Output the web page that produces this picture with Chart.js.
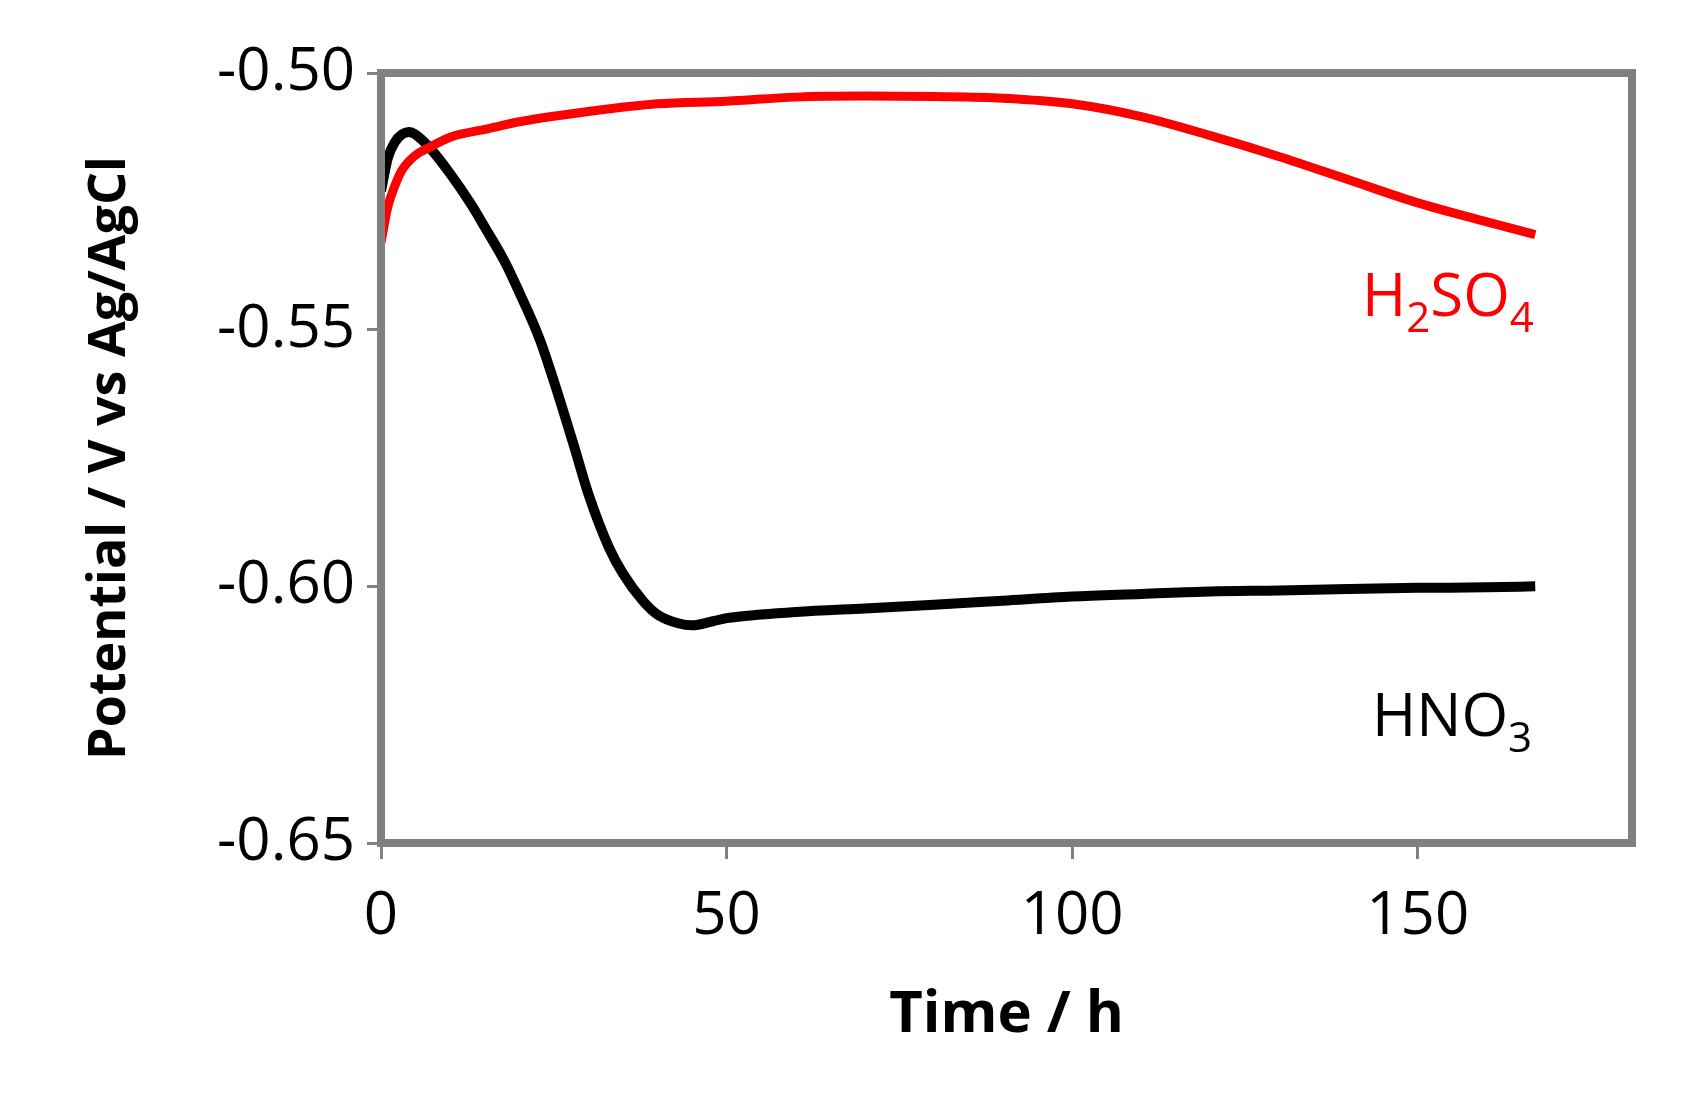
<!DOCTYPE html>
<html>
<head>
<meta charset="utf-8">
<script src="https://cdn.jsdelivr.net/npm/chart.js@4"></script>
<style>
  html, body { margin: 0; padding: 0; background: #fff; }
  #wrap { width: 1694px; height: 1104px; }
</style>
</head>
<body>
<div id="wrap"><canvas id="chart"></canvas></div>
<script>
const hno3Time = [0, 1, 2, 3, 4, 5, 7, 10, 13, 15, 18, 20, 23, 25, 28, 30, 33, 35, 38, 40, 43, 45, 48, 50, 55, 60, 70, 80, 90, 100, 110, 120, 130, 140, 150, 160, 167];
const hno3Potential = [-0.523, -0.5165, -0.5135, -0.512, -0.5115, -0.512, -0.5145, -0.5196, -0.5255, -0.530, -0.537, -0.5427, -0.552, -0.560, -0.573, -0.582, -0.5925, -0.5975, -0.603, -0.6055, -0.6072, -0.6076, -0.6068, -0.6062, -0.6055, -0.605, -0.6043, -0.6036, -0.6028, -0.602, -0.6015, -0.601, -0.6008, -0.6005, -0.6003, -0.6002, -0.6];

const h2so4Time = [0, 1, 2, 3, 5, 7, 10, 15, 20, 30, 40, 50, 60, 70, 80, 90, 100, 110, 120, 130, 140, 150, 160, 167];
const h2so4Potential = [-0.533, -0.526, -0.522, -0.519, -0.516, -0.5145, -0.5125, -0.511, -0.5095, -0.5075, -0.506, -0.5055, -0.5047, -0.5045, -0.5046, -0.5049, -0.506, -0.5085, -0.5122, -0.5163, -0.5208, -0.5253, -0.529, -0.5315];

const xTicks = [0, 50, 100, 150];
const yTicks = [-0.65, -0.60, -0.55, -0.50];

const toPoints = (xs, ys) => xs.map((x, i) => ({ x: x, y: ys[i] }));

const gray = "#808080";
const font = "'Open Sans', 'Liberation Sans', sans-serif";

// Frame around the plot area and the two series labels
const framePlugin = {
  id: "frame",
  afterDraw: (chart) => {
    const { ctx, chartArea: a } = chart;
    ctx.save();
    ctx.strokeStyle = gray;
    ctx.lineWidth = 8;
    ctx.strokeRect(a.left, a.top, a.right - a.left, a.bottom - a.top);

    const label = (main, sub, tail, x, y, color) => {
      ctx.fillStyle = color;
      ctx.textBaseline = "alphabetic";
      ctx.font = "60px " + font;
      ctx.fillText(main, x, y);
      let w = ctx.measureText(main).width;
      ctx.font = "42px " + font;
      ctx.fillText(sub, x + w, y + 16);
      w += ctx.measureText(sub).width;
      if (tail) {
        ctx.font = "60px " + font;
        ctx.fillText(tail, x + w, y);
        w += ctx.measureText(tail).width;
        ctx.font = "42px " + font;
        ctx.fillText("4", x + w, y + 16);
      }
    };
    label("H", "2", "SO", 1362, 316, "#ff0000");
    label("HNO", "3", null, 1372, 736, "#000000");
    ctx.restore();
  },
};

new Chart(document.getElementById("chart"), {
  type: "line",
  data: {
    datasets: [
      {
        label: "H2SO4",
        data: toPoints(h2so4Time, h2so4Potential),
        borderColor: "#ff0000",
        borderWidth: 9,
        pointRadius: 0,
        cubicInterpolationMode: "monotone",
      },
      {
        label: "HNO3",
        data: toPoints(hno3Time, hno3Potential),
        borderColor: "#000000",
        borderWidth: 10,
        pointRadius: 0,
        cubicInterpolationMode: "monotone",
      },
    ],
  },
  options: {
    responsive: true,
    maintainAspectRatio: false,
    animation: false,
    layout: { padding: { top: 73, right: 62, left: 75, bottom: 50 } },
    plugins: { legend: { display: false }, tooltip: { enabled: false } },
    scales: {
      x: {
        type: "linear",
        min: 0,
        max: 181,
        afterBuildTicks: (axis) => {
          axis.ticks = xTicks.map((v) => ({ value: v }));
        },
        afterFit: (axis) => {
          axis.height = 211;
        },
        grid: { drawOnChartArea: false, color: gray, tickLength: 16, tickWidth: 3 },
        border: { display: false },
        ticks: { color: "#000", font: { size: 60, family: font }, padding: 22 },
        title: {
          display: true,
          text: "Time / h",
          color: "#000",
          font: { size: 58, weight: "bold", family: font },
          padding: { top: 0 },
        },
      },
      y: {
        min: -0.65,
        max: -0.5,
        afterBuildTicks: (axis) => {
          axis.ticks = yTicks.map((v) => ({ value: v }));
        },
        afterFit: (axis) => {
          axis.width = 306;
        },
        grid: { drawOnChartArea: false, color: gray, tickLength: 14, tickWidth: 3 },
        border: { display: false },
        ticks: {
          color: "#000",
          font: { size: 60, family: font },
          padding: 12,
          callback: (v) => v.toFixed(2),
        },
        title: {
          display: true,
          text: "Potential / V vs Ag/AgCl",
          color: "#000",
          font: { size: 52, weight: "bold", family: font },
          padding: { bottom: 0 },
        },
      },
    },
  },
  plugins: [framePlugin],
});
</script>
</body>
</html>
